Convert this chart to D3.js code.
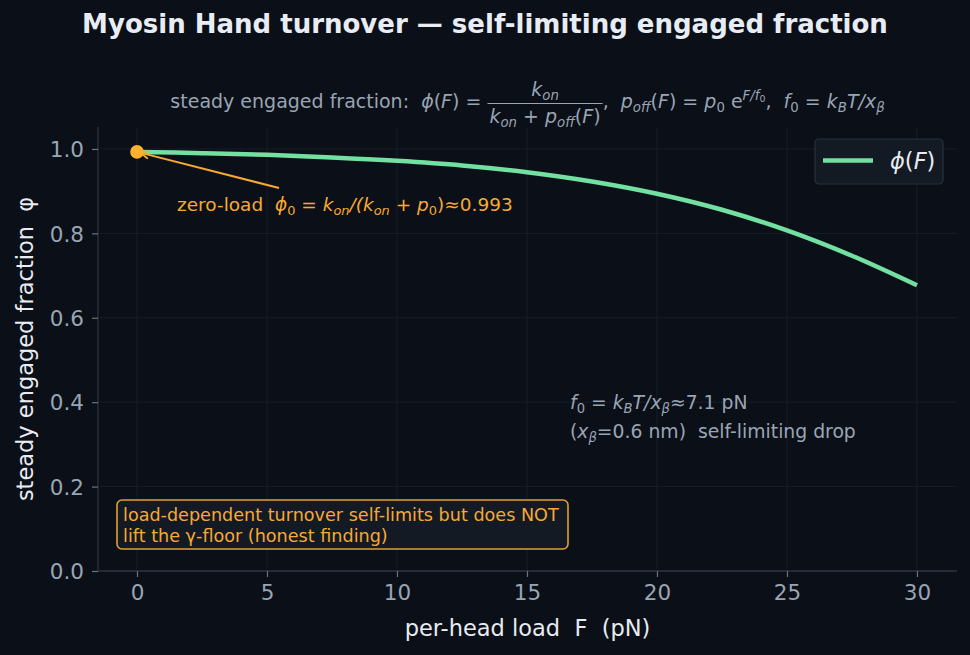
<!DOCTYPE html>
<html><head><meta charset="utf-8">
<script src="https://cdn.jsdelivr.net/npm/d3@7/dist/d3.min.js"></script>
<style>body{margin:0;background:#0b0f17;}svg{display:block;font-family:"DejaVu Sans",sans-serif;}</style>
</head><body>
<svg id="c" width="970" height="655"></svg>
<script>
const loadF = [0, 2.5, 5, 7.5, 10, 12.5, 15, 17.5, 20, 22.5, 25, 27.5, 30];
const phiVals = [0.993, 0.990, 0.986, 0.980, 0.972, 0.961, 0.945, 0.923, 0.894, 0.856, 0.807, 0.747, 0.677];
const xTicks = [0, 5, 10, 15, 20, 25, 30];
const yTicks = [0.0, 0.2, 0.4, 0.6, 0.8, 1.0];

const W = 970, H = 655;
const m = {l: 98, r: 957, t: 127, b: 571};
const svg = d3.select("#c");
svg.append("rect").attr("width", W).attr("height", H).attr("fill", "#0b0f17");

const x = d3.scaleLinear().domain([-1.5, 31.54]).range([m.l, m.r]);
const y = d3.scaleLinear().domain([0, 1.052]).range([m.b, m.t]);

const tickCol = "#9aa5b4", spineCol = "#2c3440", gridCol = "#171e29";
const orange = "#f7a934", green = "#72e0a0";

// grid
svg.append("g").selectAll("line").data(xTicks).join("line")
  .attr("x1", d => x(d)).attr("x2", d => x(d)).attr("y1", m.t).attr("y2", m.b)
  .attr("stroke", gridCol).attr("stroke-width", 1);
svg.append("g").selectAll("line").data(yTicks).join("line")
  .attr("x1", m.l).attr("x2", m.r).attr("y1", d => y(d)).attr("y2", d => y(d))
  .attr("stroke", gridCol).attr("stroke-width", 1);

// axes
const xAxis = svg.append("g").attr("transform", `translate(0,${m.b})`)
  .call(d3.axisBottom(x).tickValues(xTicks).tickFormat(d3.format("d")).tickSize(6).tickPadding(8));
const yAxis = svg.append("g").attr("transform", `translate(${m.l},0)`)
  .call(d3.axisLeft(y).tickValues(yTicks).tickFormat(d3.format(".1f")).tickSize(6).tickPadding(8));
[xAxis, yAxis].forEach(g => {
  g.select(".domain").attr("stroke", spineCol).attr("stroke-width", 1.3);
  g.selectAll(".tick line").attr("stroke", "#6a7482").attr("stroke-width", 1.2);
  g.selectAll(".tick text").attr("fill", tickCol).attr("font-size", 21.5).attr("font-family", "DejaVu Sans");
});
xAxis.selectAll(".tick text").attr("dy", "0.71em");
yAxis.selectAll(".tick text").attr("dy", "0.36em");
xAxis.select(".domain").attr("d", `M${m.l},0H${m.r}`);
yAxis.select(".domain").attr("d", `M0,${m.t}V${m.b}`);

// curve
const pts = loadF.map((f, i) => [f, phiVals[i]]);
svg.append("path").datum(pts)
  .attr("d", d3.line().x(d => x(d[0])).y(d => y(d[1])).curve(d3.curveCatmullRom))
  .attr("fill", "none").attr("stroke", green).attr("stroke-width", 4.5).attr("stroke-linecap", "butt");

// helper for math-ish rich text: level 0 normal, 1 sub, -1 sup, -2 sup-sub
const LV = {0: [0, 1], 1: [0.22, 0.7], "-1": [-0.42, 0.7], "-2": [-0.30, 0.5]};
function rich(textSel, segs, size) {
  let cur = 0;
  segs.forEach(s => {
    const lv = s.sub ? 1 : s.sup ? -1 : s.ss ? -2 : 0;
    const [off, sc] = LV[lv];
    const ts = textSel.append("tspan").text(s.t).attr("font-size", size * sc);
    if (s.i) ts.attr("font-style", "italic");
    const target = off * size;
    if (target !== cur) { ts.attr("dy", target - cur); cur = target; }
  });
  return textSel;
}

// title
svg.append("text").attr("x", 485).attr("y", 33).attr("text-anchor", "middle")
  .attr("fill", "#e8ecf4").attr("font-size", 26).attr("font-weight", "bold")
  .text("Myosin Hand turnover \u2014 self-limiting engaged fraction");

// subtitle with fraction
const sub = svg.append("g").attr("fill", tickCol);
const fs = 19;
const base = 108;
const t1 = rich(sub.append("text").attr("y", base).attr("font-size", fs).attr("xml:space", "preserve"),
  [{t: "steady engaged fraction:  "}, {t: "\u03D5", i: 1}, {t: "("}, {t: "F", i: 1}, {t: ") = "}], fs);
const w1 = t1.node().getComputedTextLength();
const num = rich(sub.append("text").attr("y", 96).attr("font-size", fs).attr("text-anchor", "middle"),
  [{t: "k", i: 1}, {t: "on", i: 1, sub: 1}], fs);
const den = rich(sub.append("text").attr("y", 123).attr("font-size", fs).attr("text-anchor", "middle").attr("xml:space", "preserve"),
  [{t: "k", i: 1}, {t: "on", i: 1, sub: 1}, {t: " + "}, {t: "p", i: 1}, {t: "off", i: 1, sub: 1}, {t: "("}, {t: "F", i: 1}, {t: ")"}], fs);
const wf = Math.max(num.node().getComputedTextLength(), den.node().getComputedTextLength()) + 4;
const bar = sub.append("line").attr("stroke", tickCol).attr("stroke-width", 1.1);
const t2 = rich(sub.append("text").attr("y", base).attr("font-size", fs).attr("xml:space", "preserve"),
  [{t: ",  "}, {t: "p", i: 1}, {t: "off", i: 1, sub: 1}, {t: "("}, {t: "F", i: 1}, {t: ") = "}, {t: "p", i: 1}, {t: "0", sub: 1},
   {t: " e"}, {t: "F/f", i: 1, sup: 1}, {t: "0", ss: 1}, {t: ",  "}, {t: "f", i: 1}, {t: "0", sub: 1}, {t: " = "}, {t: "k", i: 1}, {t: "B", i: 1, sub: 1},
   {t: "T/x", i: 1}, {t: "\u03B2", i: 1, sub: 1}], fs);
const w2 = t2.node().getComputedTextLength();
const total = w1 + wf + w2;
const x0 = (m.l + m.r) / 2 - total / 2;
t1.attr("x", x0);
num.attr("x", x0 + w1 + wf / 2);
den.attr("x", x0 + w1 + wf / 2);
bar.attr("x1", x0 + w1).attr("x2", x0 + w1 + wf).attr("y1", 103.5).attr("y2", 103.5);
t2.attr("x", x0 + w1 + wf);

// zero-load annotation
const defs = svg.append("defs");
defs.append("marker").attr("id", "ah").attr("viewBox", "0 0 10 10").attr("refX", 9).attr("refY", 5)
  .attr("markerWidth", 10).attr("markerHeight", 10).attr("orient", "auto-start-reverse").attr("markerUnits", "userSpaceOnUse")
  .append("path").attr("d", "M1,1 L9,5 L1,9").attr("fill", "none").attr("stroke", orange).attr("stroke-width", 1.8);
svg.append("line").attr("x1", 279).attr("y1", 188).attr("x2", x(0) + 4).attr("y2", y(phiVals[0]) + 1)
  .attr("stroke", orange).attr("stroke-width", 2).attr("marker-end", "url(#ah)");
svg.append("circle").attr("cx", x(loadF[0])).attr("cy", y(phiVals[0])).attr("r", 6.8).attr("fill", "#ffb02e");
const annFs = 18.5;
rich(svg.append("text").attr("x", 177).attr("y", 211).attr("font-size", annFs).attr("fill", orange).attr("xml:space", "preserve"),
  [{t: "zero-load  "}, {t: "\u03D5", i: 1}, {t: "0", sub: 1}, {t: " = "}, {t: "k", i: 1}, {t: "on", i: 1, sub: 1}, {t: "/(", i: 1},
   {t: "k", i: 1}, {t: "on", i: 1, sub: 1}, {t: " + "}, {t: "p", i: 1}, {t: "0", sub: 1}, {t: ")\u22480.993"}], annFs);

// f0 note
const nFs = 18.8;
rich(svg.append("text").attr("x", 570).attr("y", 409).attr("font-size", nFs).attr("fill", tickCol).attr("xml:space", "preserve"),
  [{t: "f", i: 1}, {t: "0", sub: 1}, {t: " = "}, {t: "k", i: 1}, {t: "B", i: 1, sub: 1}, {t: "T/x", i: 1}, {t: "\u03B2", i: 1, sub: 1}, {t: "\u22487.1 pN"}], nFs);
rich(svg.append("text").attr("x", 570).attr("y", 438).attr("font-size", nFs).attr("fill", tickCol).attr("xml:space", "preserve"),
  [{t: "("}, {t: "x", i: 1}, {t: "\u03B2", i: 1, sub: 1}, {t: "=0.6 nm)  self-limiting drop"}], nFs);

// finding box
svg.append("rect").attr("x", 117).attr("y", 500).attr("width", 451).attr("height", 49).attr("rx", 5)
  .attr("fill", "#131a24").attr("stroke", "#e0a030").attr("stroke-width", 1.6);
svg.append("text").attr("x", 123).attr("y", 521).attr("font-size", 17.6).attr("fill", orange)
  .text("load-dependent turnover self-limits but does NOT");
svg.append("text").attr("x", 123).attr("y", 542).attr("font-size", 17.6).attr("fill", orange)
  .text("lift the \u03B3-floor (honest finding)");

// legend
svg.append("rect").attr("x", 815).attr("y", 139).attr("width", 128).attr("height", 45).attr("rx", 4)
  .attr("fill", "#131a24").attr("stroke", "#29313d").attr("stroke-width", 1.2);
svg.append("line").attr("x1", 823).attr("x2", 873).attr("y1", 160.5).attr("y2", 160.5).attr("stroke", green).attr("stroke-width", 4.5);
rich(svg.append("text").attr("x", 890).attr("y", 169).attr("font-size", 22.5).attr("fill", "#e8ecf2"),
  [{t: "\u03D5", i: 1}, {t: "("}, {t: "F", i: 1}, {t: ")"}], 22.5);

// axis labels
svg.append("text").attr("x", (m.l + m.r) / 2).attr("y", 636).attr("text-anchor", "middle")
  .attr("font-size", 22.5).attr("fill", "#e8ecf2").attr("xml:space", "preserve").text("per-head load  F  (pN)");
svg.append("text").attr("transform", `translate(33,${(m.t + m.b) / 2}) rotate(-90)`).attr("text-anchor", "middle")
  .attr("font-size", 22.5).attr("fill", "#e8ecf2").attr("xml:space", "preserve").text("steady engaged fraction  \u03C6");
</script>
</body></html>
